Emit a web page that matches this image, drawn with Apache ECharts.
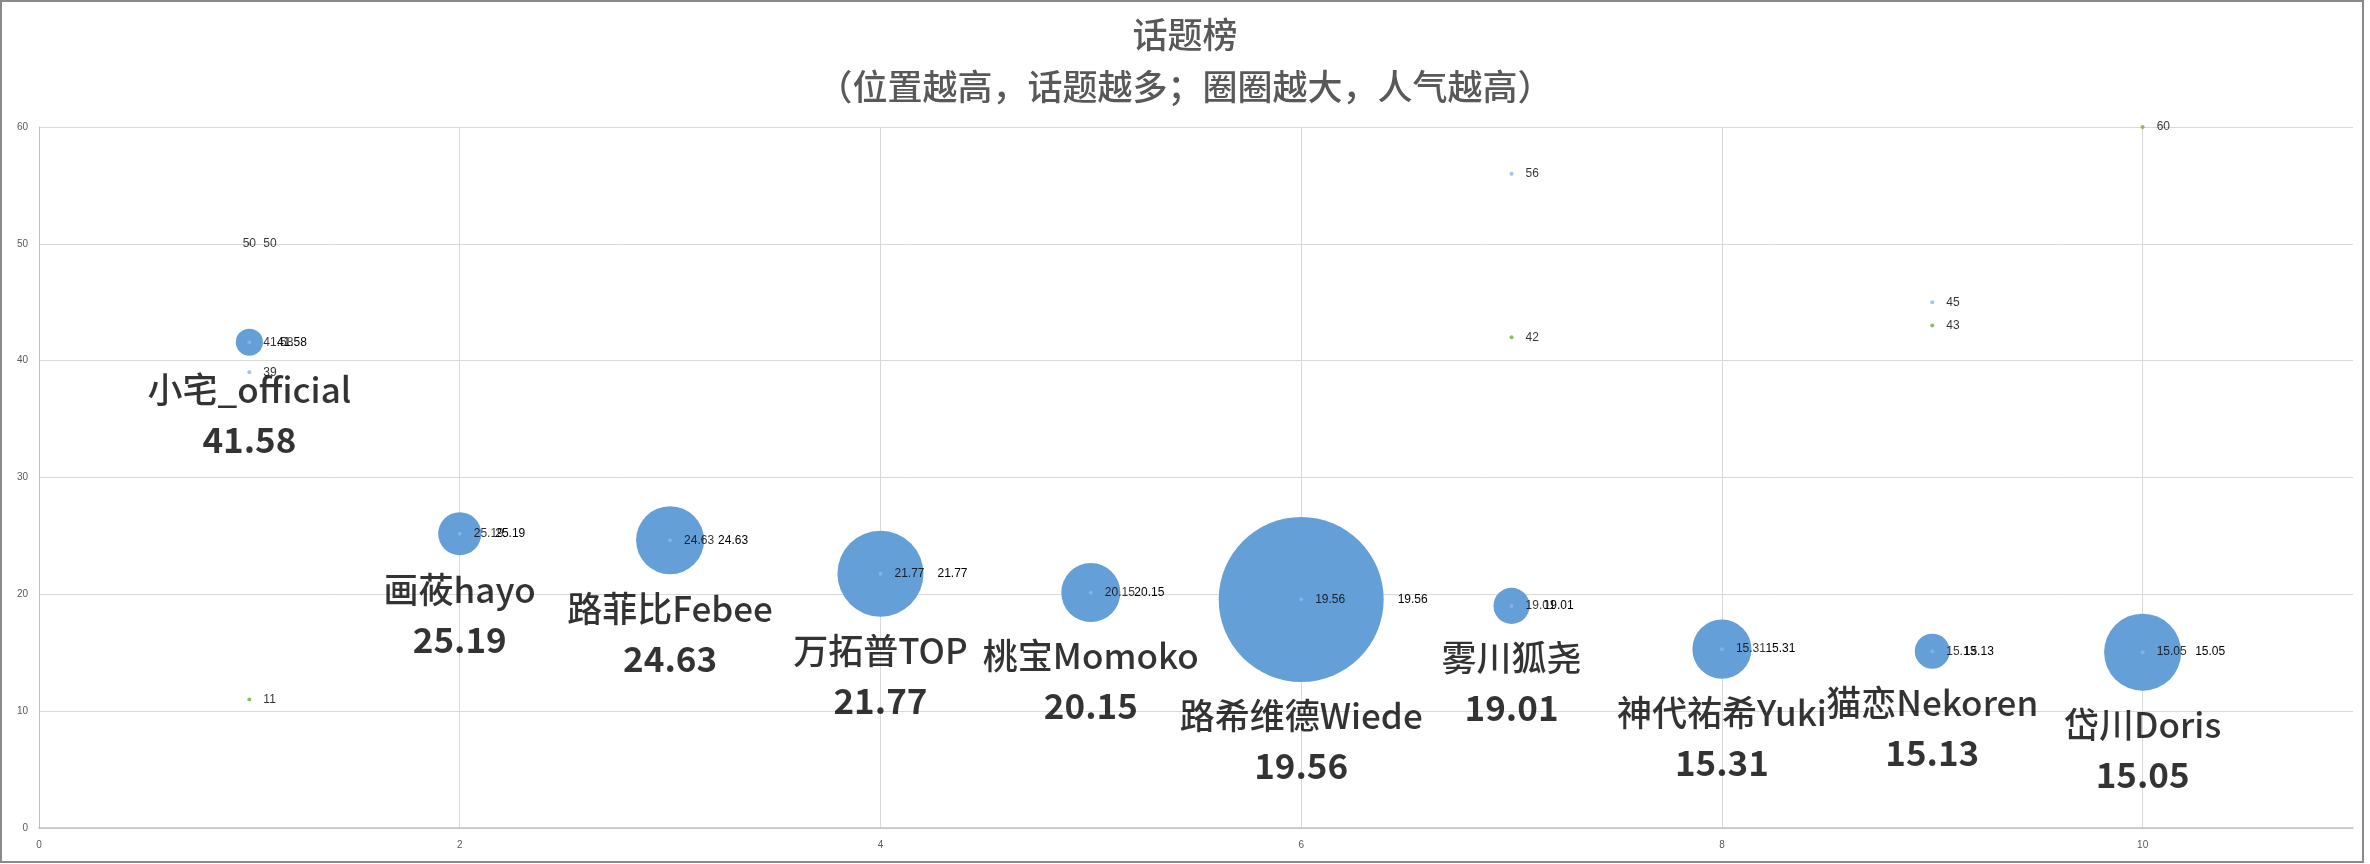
<!DOCTYPE html>
<html>
<head>
<meta charset="utf-8">
<script src="https://cdn.jsdelivr.net/npm/echarts@6/dist/echarts.min.js"></script>
<style>
html,body{margin:0;padding:0;background:#fff;}
#frame{position:absolute;left:0;top:0;width:2364px;height:863px;box-sizing:border-box;border:2px solid #8a8a8a;}
#chart{position:absolute;left:0;top:0;width:2370px;height:864px;}
</style>
</head>
<body>
<div id="frame"></div>
<div id="chart"></div>
<script>
// ---- data ----
const names = ['小宅_official','画莜hayo','路菲比Febee','万拓普TOP','桃宝Momoko','路希维德Wiede','雾川狐尧','神代祐希Yuki','猫恋Nekoren','岱川Doris'];
const xPos = [1,2,3,4,5,6,7,8,9,10];
const topics = [41.58,25.19,24.63,21.77,20.15,19.56,19.01,15.31,15.13,15.05];
const popularity = [27,68,170,272,128,1000,48,128,45,218];
const blueX = [1,1,7,9];
const blueY = [50,39,56,45];
const greenX = [1,7,9,10];
const greenY = [11,42,43,60];
const plainX = [1];
const plainY = [50];
const titleText = '话题榜\n（位置越高，话题越多；圈圈越大，人气越高）';

// ---- chart ----
const maxPop = Math.max(...popularity);
const maxDiam = 165;
const bubbleSize = v => maxDiam * Math.sqrt(v[2] / maxPop);
const bubbleData = names.map((n,i)=>({name:n, value:[xPos[i], topics[i], popularity[i]]}));
const smallLabel = {show:true, position:'right', distance:12, color:'#000', fontSize:12, fontFamily:'Liberation Sans', formatter: p => String(p.value[1])};
const cjk = '"Noto Sans CJK SC", "Noto Sans", sans-serif';

const chart = echarts.init(document.getElementById('chart'), null, {renderer:'canvas'});
chart.setOption({
  animation:false,
  title:{
    text:titleText, left:'center', top:4,
    textStyle:{fontSize:35, lineHeight:52, fontWeight:500, color:'#595959', fontFamily:cjk}
  },
  grid:{left:39, right:17, top:127, bottom:36, containLabel:false},
  xAxis:{
    type:'value', min:0, max:11, interval:2,
    axisLine:{show:true, lineStyle:{color:'#bfbfbf', width:1.5}},
    axisTick:{show:false},
    axisLabel:{fontSize:10, color:'#595959', margin:12, showMaxLabel:false, fontFamily:'Liberation Sans'},
    splitLine:{show:true, showMinLine:false, showMaxLine:false, lineStyle:{color:'#d9d9d9', width:1}}
  },
  yAxis:{
    type:'value', min:0, max:60, interval:10,
    axisLine:{show:true, lineStyle:{color:'#bfbfbf', width:1}},
    axisTick:{show:false},
    axisLabel:{fontSize:10, color:'#595959', margin:11, fontFamily:'Liberation Sans'},
    splitLine:{show:true, lineStyle:{color:'#d9d9d9', width:1}}
  },
  series:[
    {
      name:'人气', type:'scatter', data:bubbleData, symbolSize:bubbleSize,
      itemStyle:{color:'#659fd7', opacity:1},
      label:{show:true, position:'right', distance:14, color:'#000', fontSize:12, fontFamily:'Liberation Sans', formatter:p=>p.value[1].toFixed(2)},
      z:2
    },
    {
      name:'名称', type:'scatter', data:bubbleData, symbolSize:bubbleSize,
      itemStyle:{color:'rgba(0,0,0,0)'}, silent:true,
      label:{show:true, position:'bottom', distance:9, align:'center',
        formatter:p=>`{n|${p.name}}\n{v|${p.value[1].toFixed(2)}}`,
        rich:{
          n:{fontSize:35, lineHeight:50, color:'#000', fontWeight:500, fontFamily:cjk, align:'center'},
          v:{fontSize:35, lineHeight:50, color:'#000', fontWeight:'bold', fontFamily:cjk, align:'center'}
        }},
      z:3
    },
    {
      name:'话题', type:'scatter', symbolSize:4, itemStyle:{color:'#8fb6e4'},
      data:xPos.map((x,i)=>[x, topics[i]]),
      label:Object.assign({}, smallLabel, {formatter:p=>p.value[1].toFixed(2)}), z:4
    },
    {
      name:'蓝', type:'scatter', symbolSize:4, itemStyle:{color:'#8fb6e4'},
      data:blueX.map((x,i)=>[x, blueY[i]]), label:smallLabel, z:4
    },
    {
      name:'绿', type:'scatter', symbolSize:4, itemStyle:{color:'#70ad47'},
      data:greenX.map((x,i)=>[x, greenY[i]]), label:smallLabel, z:4
    },
    {
      name:'标签', type:'scatter', symbolSize:1, itemStyle:{color:'rgba(0,0,0,0)'},
      data:plainX.map((x,i)=>[x, plainY[i]]),
      label:Object.assign({}, smallLabel, {position:'inside', distance:0}), z:5
    }
  ]
});
</script>
</body>
</html>
